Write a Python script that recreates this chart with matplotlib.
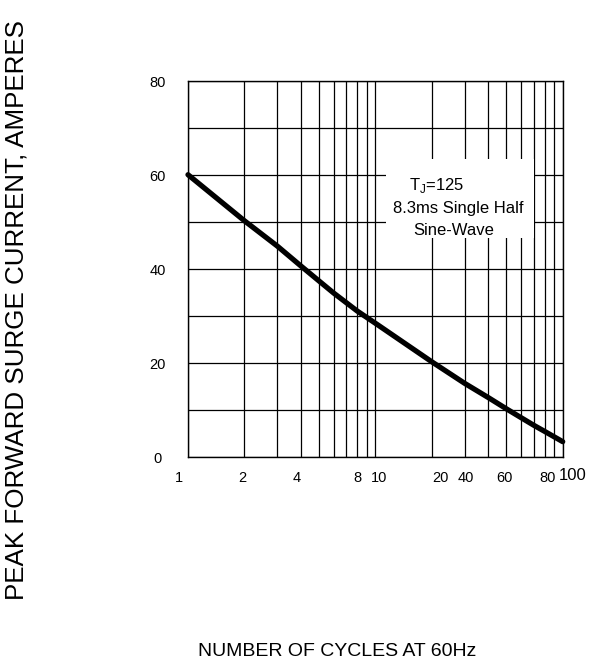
import matplotlib
matplotlib.use("Agg")
import matplotlib.pyplot as plt
from matplotlib import font_manager as fm
from matplotlib.patches import Rectangle
from matplotlib.ticker import FixedLocator, NullFormatter, LogLocator

# ---- data ----
cycles = [1, 2, 3, 4, 5, 6, 8, 10, 20, 30, 40, 50, 60, 70, 80, 100]
surge_current = [60, 50.2, 44.8, 40.6, 37.4, 34.8, 31.0, 28.4, 20.2, 15.6, 12.6, 10.2, 8.3, 6.7, 5.4, 3.2]

x_tick_labels = ["1", "2", "4", "8", "10", "20", "40", "60", "80", "100"]
x_tick_pos = [0.9, 1.94, 3.82, 8.0, 10.45, 22.2, 30.5, 48.9, 83.4, 113.5]
y_tick_labels = ["0", "20", "40", "60", "80"]
y_tick_vals = [0, 20, 40, 60, 80]

annotation_lines = [r"T$_\mathregular{J}$=125", "8.3ms Single Half", "Sine-Wave"]
x_label = "NUMBER OF CYCLES AT 60Hz"
y_label = "PEAK FORWARD SURGE CURRENT, AMPERES"

names = {f.name for f in fm.fontManager.ttflist}
narrow = "Liberation Sans Narrow" if "Liberation Sans Narrow" in names else "Liberation Sans"
plt.rcParams["font.family"] = ["Liberation Sans", "DejaVu Sans"]
plt.rcParams["mathtext.fontset"] = "custom"
plt.rcParams["mathtext.rm"] = narrow

fig = plt.figure(figsize=(5.89, 6.64), dpi=100)
L, R, T, B = 188 / 589, 562.7 / 589, 1 - 80.7 / 664, 1 - 456.7 / 664
ax = fig.add_axes([L, B, R - L, T - B])

ax.set_xscale("log")
ax.set_xlim(1, 100)
ax.set_ylim(0, 80)

# grid lines
ax.xaxis.set_major_locator(LogLocator(base=10, subs=[1.0, 2, 3, 4, 5, 6, 7, 8, 9]))
ax.xaxis.set_minor_locator(FixedLocator([]))
ax.xaxis.set_major_formatter(NullFormatter())
ax.yaxis.set_major_locator(FixedLocator(list(range(0, 81, 10))))
ax.yaxis.set_major_formatter(NullFormatter())
ax.grid(True, which="major", color="black", linewidth=0.9)
ax.set_axisbelow(True)
ax.tick_params(length=0)
for s in ax.spines.values():
    s.set_linewidth(1.0)
    s.set_color("black")

# white annotation box covering the grid
ax.add_patch(Rectangle((11.4, 46.5), 70.7 - 11.4, 63.3 - 46.5, facecolor="white",
                       edgecolor="none", zorder=1.5))

ax.plot(cycles, surge_current, color="black", linewidth=3.8, solid_capstyle="round",
        solid_joinstyle="round", zorder=3, clip_on=False)

# annotation text
ann_pos = [(21.2, 57.8), (27.6, 52.9), (26.1, 48.1)]
for (xx, yy), txt in zip(ann_pos, annotation_lines):
    ax.text(xx, yy, txt, ha="center", va="center", fontsize=12,
            family=[narrow, "DejaVu Sans"], zorder=4)

# tick labels
for pos, lab in zip(x_tick_pos, x_tick_labels):
    if lab == "100":
        ax.text(pos, -3.9, lab, ha="center", va="center", fontsize=12,
                family=[narrow, "DejaVu Sans"], clip_on=False)
    else:
        ax.text(pos, -4.6, lab, ha="center", va="center", fontsize=10.5,
                clip_on=False)
for v, lab in zip(y_tick_vals, y_tick_labels):
    ax.text(0.69, v - 0.4, lab, ha="center", va="center", fontsize=10.5, clip_on=False)

fig.text(337 / 589, 1 - 652 / 664, x_label, ha="center", va="center", fontsize=14,
         family=[narrow, "DejaVu Sans"])
fig.text(17 / 589, 1 - 310 / 664, y_label, ha="center", va="center", fontsize=18.7,
         rotation=90)

fig.savefig("out.png", dpi=100)
